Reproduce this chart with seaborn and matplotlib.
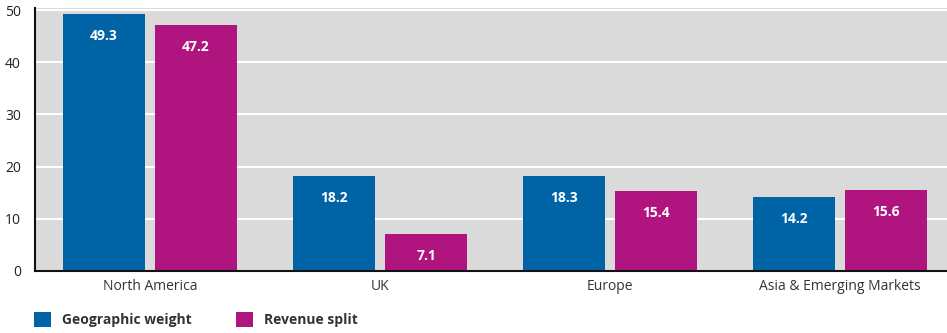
import matplotlib
matplotlib.use("Agg")
import matplotlib.pyplot as plt
import seaborn as sns
import pandas as pd
from matplotlib.patches import Patch

categories = ["North America", "UK", "Europe", "Asia & Emerging Markets"]
series_names = ["Geographic weight", "Revenue split"]
geographic_weight = [49.3, 18.2, 18.3, 14.2]
revenue_split = [47.2, 7.1, 15.4, 15.6]
y_ticks = [0, 10, 20, 30, 40, 50]

colors = ["#0063A6", "#B0147F"]

df = pd.DataFrame({
    "Region": categories * 2,
    "Series": [series_names[0]] * 4 + [series_names[1]] * 4,
    "Value": geographic_weight + revenue_split,
})

sns.set_theme(style="white")
plt.rcParams["font.family"] = ["Open Sans", "DejaVu Sans"]

fig = plt.figure(figsize=(9.47, 3.33), dpi=100)
ax = fig.add_axes([35 / 947, 1 - 271 / 333, 1 - 35 / 947, (271 - 8) / 333])

sns.barplot(data=df, x="Region", y="Value", hue="Series", order=categories,
            hue_order=series_names, palette=colors, width=0.8, gap=0.1,
            saturation=1, ax=ax, legend=False, linewidth=0, edgecolor="none")

ax.set_facecolor("#DADADA")
ax.set_ylim(0, 50.4)
ax.set_xlim(-0.5, 3.465)
ax.set_yticks(y_ticks)
ax.yaxis.grid(True, color="white", linewidth=1.5)
ax.set_axisbelow(True)
ax.set_xlabel("")
ax.set_ylabel("")
for s in ["top", "right"]:
    ax.spines[s].set_visible(False)
for s in ["left", "bottom"]:
    ax.spines[s].set_color("#111111")
    ax.spines[s].set_linewidth(1.5)
ax.tick_params(axis="both", length=0, labelsize=10, colors="#222222")
ax.tick_params(axis="y", pad=10)
ax.tick_params(axis="x", pad=6)
for lbl in ax.get_xticklabels():
    lbl.set_color("#333333")

for container in ax.containers:
    for bar in container:
        h = bar.get_height()
        ax.annotate(f"{h:.1f}", (bar.get_x() + bar.get_width() / 2, h),
                    xytext=(0, -16), textcoords="offset points",
                    ha="center", va="center", color="white",
                    fontsize=10, fontweight="bold")

handles = [Patch(facecolor=c, edgecolor="none") for c in colors]
fig.legend(handles, series_names, loc="lower left", bbox_to_anchor=(0.023, -0.02),
           ncol=2, frameon=False, handlelength=1.2, handleheight=1.2,
           columnspacing=3.2, handletextpad=0.8,
           prop={"weight": "bold", "size": 10})
for t in fig.legends[0].get_texts():
    t.set_color("#333333")

fig.savefig("out.png", dpi=100)
